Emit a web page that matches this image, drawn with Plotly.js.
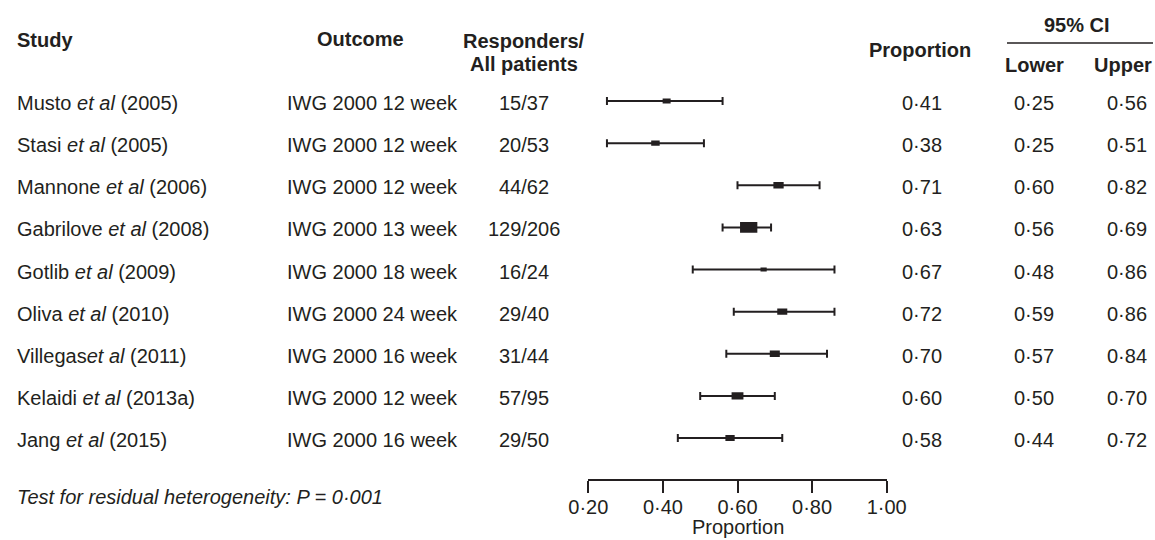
<!DOCTYPE html>
<html>
<head>
<meta charset="utf-8">
<script src="https://cdn.plot.ly/plotly-3.0.1.min.js"></script>
<style>html,body{margin:0;padding:0;background:#fff;}#chart{width:1155px;height:540px;}</style>
</head>
<body>
<div id="chart"></div>
<script>
// ---- data ----
const studies = ['Musto <i>et al</i> (2005)', 'Stasi <i>et al</i> (2005)', 'Mannone <i>et al</i> (2006)',
  'Gabrilove <i>et al</i> (2008)', 'Gotlib <i>et al</i> (2009)', 'Oliva <i>et al</i> (2010)',
  'Villegas<i>et al</i> (2011)', 'Kelaidi <i>et al</i> (2013a)', 'Jang <i>et al</i> (2015)'];
const outcomes = ['IWG 2000 12 week', 'IWG 2000 12 week', 'IWG 2000 12 week', 'IWG 2000 13 week',
  'IWG 2000 18 week', 'IWG 2000 24 week', 'IWG 2000 16 week', 'IWG 2000 12 week', 'IWG 2000 16 week'];
const responders = [15, 20, 44, 129, 16, 29, 31, 57, 29];
const patients = [37, 53, 62, 206, 24, 40, 44, 95, 50];
const proportion = [0.41, 0.38, 0.71, 0.63, 0.67, 0.72, 0.70, 0.60, 0.58];
const lower = [0.25, 0.25, 0.60, 0.56, 0.48, 0.59, 0.57, 0.50, 0.44];
const upper = [0.56, 0.51, 0.82, 0.69, 0.86, 0.86, 0.84, 0.70, 0.72];
const weights = [40, 45, 66, 187, 24, 63, 63, 88, 54]; // relative marker area (study weight)
const tickVals = [0.20, 0.40, 0.60, 0.80, 1.00];
const tickText = ['0·20', '0·40', '0·60', '0·80', '1·00'];
const axisTitle = 'Proportion';
const heterogeneityNote = 'Test for residual heterogeneity: P = 0·001';

// ---- helpers ----
const W = 1155, H = 540;
const INK = '#231f20';
const FONT = 'Liberation Sans, Arial, Helvetica, sans-serif';
const fmt = v => v.toFixed(2).replace('.', '·');
const px = x => x / W;
const py = y => 1 - y / H;
const rows = studies.map((_, i) => i + 1);

const annotations = [];
function addText(text, x, y, anchor, opts = {}) {
  annotations.push(Object.assign({
    text: text, x: px(x), xref: 'paper', y: py(y), yref: 'paper',
    xanchor: anchor, yanchor: 'middle', showarrow: false,
    font: {family: FONT, size: 20, color: INK}
  }, opts));
}
function addRowText(text, x, row, anchor) {
  annotations.push({
    text: text, x: px(x), xref: 'paper', y: row, yref: 'y',
    xanchor: anchor, yanchor: 'middle', yshift: -2, showarrow: false,
    font: {family: FONT, size: 20, color: INK}
  });
}

// headers
addText('<b>Study</b>', 15, 40, 'left');
addText('<b>Outcome</b>', 360, 39, 'center');
addText('<b>Responders/</b>', 524, 41, 'center');
addText('<b>All patients</b>', 524, 64, 'center');
addText('<b>Proportion</b>', 920, 50, 'center');
addText('<b>95% CI</b>', 1077, 25, 'center');
addText('<b>Lower</b>', 1034, 65, 'center');
addText('<b>Upper</b>', 1123, 65, 'center');
addText('<i>' + heterogeneityNote + '</i>', 15, 497, 'left');
// x-axis title, centred under the axis, sitting on the bottom edge
annotations.push({
  text: axisTitle, xref: 'x', x: (tickVals[0] + tickVals[tickVals.length - 1]) / 2,
  yref: 'paper', y: 0, xanchor: 'center', yanchor: 'bottom', showarrow: false,
  font: {family: FONT, size: 20, color: INK}
});

// rows
studies.forEach((s, i) => {
  const r = rows[i];
  addRowText(s, 15, r, 'left');
  addRowText(outcomes[i], 285, r, 'left');
  addRowText(responders[i] + '/' + patients[i], 524, r, 'center');
  addRowText(fmt(proportion[i]), 922, r, 'center');
  addRowText(fmt(lower[i]), 1034, r, 'center');
  addRowText(fmt(upper[i]), 1127, r, 'center');
});

// weight boxes
const shapes = proportion.map((p, i) => {
  const a = weights[i];
  const w = Math.sqrt(a * 1.6), h = Math.sqrt(a / 1.6);
  return {
    type: 'rect', xref: 'x', yref: 'y',
    xsizemode: 'pixel', xanchor: p, x0: -w / 2, x1: w / 2,
    ysizemode: 'pixel', yanchor: rows[i], y0: -h / 2, y1: h / 2,
    fillcolor: INK, line: {width: 0}
  };
});
// 95% CI header rule
shapes.push({type: 'line', xref: 'paper', yref: 'paper', x0: px(1007), x1: px(1153), y0: py(43), y1: py(43),
  line: {color: INK, width: 1.6}});

const trace = {
  type: 'scatter', mode: 'markers',
  x: proportion, y: rows,
  marker: {size: 2, color: 'rgba(0,0,0,0)'},
  error_x: {type: 'data', symmetric: false,
    array: upper.map((u, i) => u - proportion[i]),
    arrayminus: lower.map((l, i) => proportion[i] - l),
    color: INK, thickness: 2, width: 4},
  hoverinfo: 'skip', showlegend: false, cliponaxis: false
};

const layout = {
  width: W, height: H,
  margin: {l: 0, r: 0, t: 0, b: 0},
  paper_bgcolor: '#fff', plot_bgcolor: '#fff',
  showlegend: false,
  font: {family: FONT, size: 20, color: INK},
  xaxis: {
    domain: [588.3 / W, 886.7 / W], range: [0.2, 1.0], fixedrange: true,
    showgrid: false, zeroline: false, showline: true, linewidth: 2, linecolor: INK,
    ticks: 'outside', ticklen: 12, tickwidth: 2, tickcolor: INK,
    tickvals: tickVals, ticktext: tickText, ticklabelstandoff: -3,
    tickfont: {family: FONT, size: 20, color: INK},
    automargin: false
  },
  yaxis: {
    domain: [61 / H, 1], range: [9.973, -1.398], visible: false, fixedrange: true,
    showgrid: false, zeroline: false, automargin: false
  },
  annotations: annotations,
  shapes: shapes
};

Plotly.newPlot('chart', [trace], layout, {displayModeBar: false, staticPlot: true});
</script>
</body>
</html>
